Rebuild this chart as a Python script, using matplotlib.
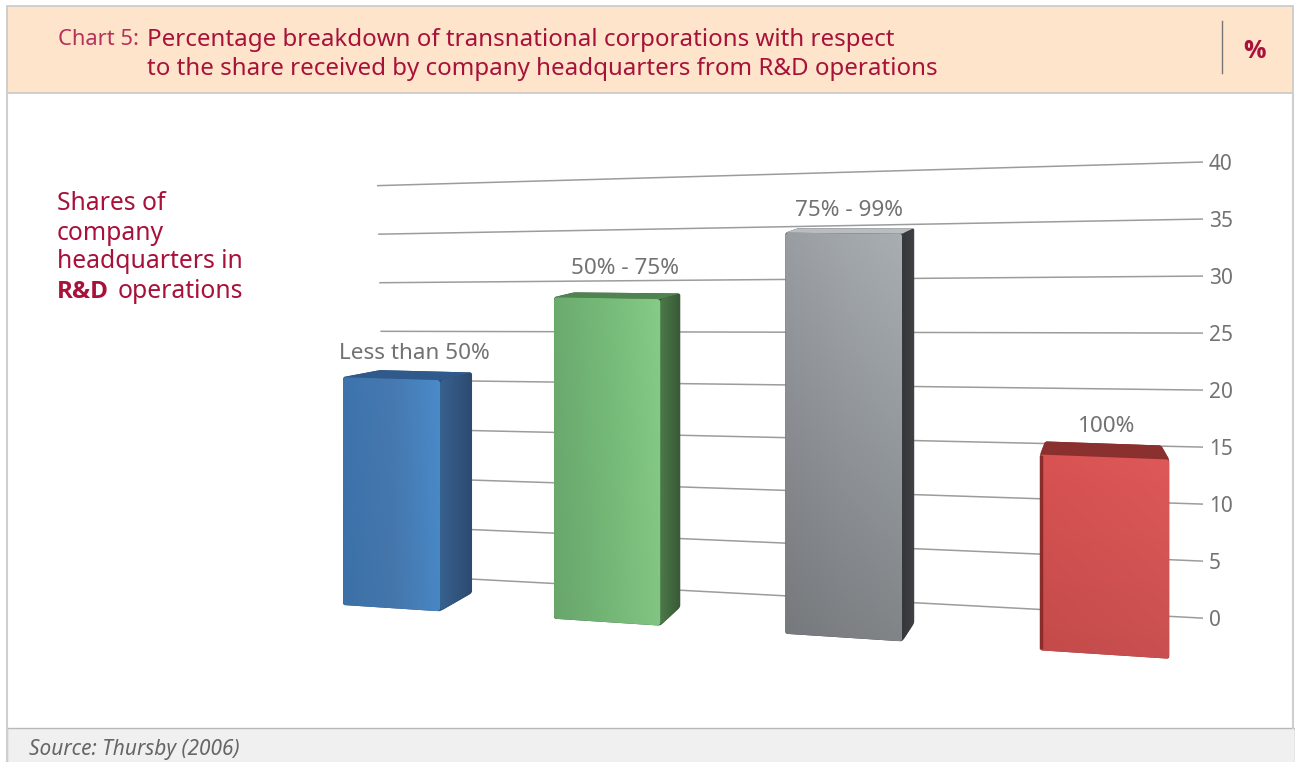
import numpy as np
import matplotlib
matplotlib.use("Agg")
import matplotlib.pyplot as plt
from matplotlib.path import Path
from matplotlib.patches import PathPatch, Rectangle
from matplotlib.colors import to_rgb

# --- data ---
categories = ["Less than 50%", "50% - 75%", "75% - 99%", "100%"]
values = [21.2, 29, 35, 16.5]
ticks = [0, 5, 10, 15, 20, 25, 30, 35, 40]
tick_labels = ["0", "5", "10", "15", "20", "25", "30", "35", "40"]

# --- look of the bars: front (left, mid, right), side (left, right), top ---
front_colors = [["#3d74ad", "#4679b0", "#4a8bca"],
                ["#6cab6f", "#76bb79", "#86cb87"],
                ["#85898d", "#8d9195", "#92979b"],
                ["#d25050", "#d55353", "#d85656"]]
side_colors = [["#38618f", "#2d4a70"],
               ["#4c7a4a", "#395a37"],
               ["#34363a", "#3f4145"],
               ["#8a2c2a", "#8a2c2a"]]
top_colors = ["#2f5a8c", "#4f8450", "#b9bdc0", "#8a302e"]
shade_top = [1.0, 1.0, 1.15, 1.03]     # vertical light on the front face
shade_bottom = [0.97, 0.97, 0.88, 0.93]
side_left = [37, 20, 12, 5]            # how far the back corners shift, px
side_right = [32, 20, 12, -8]
label_dx = [22.5, 18, 5, 2]
label_dy = [19, 26, 20, 17]

RED = "#a8113a"
GREY = "#727272"
FONT = "Noto Sans"
BOLD = "Open Sans"
BAR_WIDTH = 0.471


# --- perspective: category position / value to pixels ---
def cat_x(t):
    return (186.7 * t + 343) / (1 - 0.0439 * t)


def grid_y(x, v):
    return 579 + 0.0534 * (x - 470) - v * (9.9 + 0.00205 * (x - 470))


def front_y(x, v):
    return 605 + 0.065 * (x - 343) - v * (10.75 + 0.0016 * (x - 343))


def back_y(x, v):
    return 593 + 0.068 * (x - 473) - v * (10.4 + 0.002 * (x - 473))


def rounded(pts, r):
    # closed polygon path with the corners cut by small curves
    pts = [np.array(p, dtype=float) for p in pts]
    verts, codes = [], []
    n = len(pts)
    for k in range(n):
        prev, cur, nxt = pts[k - 1], pts[k], pts[(k + 1) % n]
        r1 = min(r, np.linalg.norm(prev - cur) / 2)
        r2 = min(r, np.linalg.norm(nxt - cur) / 2)
        a = cur + (prev - cur) / np.linalg.norm(prev - cur) * r1
        b = cur + (nxt - cur) / np.linalg.norm(nxt - cur) * r2
        verts.append(a)
        codes.append(Path.MOVETO if k == 0 else Path.LINETO)
        verts += [cur, b]
        codes += [Path.CURVE3, Path.CURVE3]
    verts.append(verts[0])
    codes.append(Path.CLOSEPOLY)
    return Path(verts, codes)


def shaded_face(ax, pts, h_colors, top=1.0, bottom=1.0, r=3, z=3):
    # horizontal colour ramp times a vertical light, clipped to the face
    pts = np.array(pts, dtype=float)
    x0, x1 = pts[:, 0].min(), pts[:, 0].max()
    y0, y1 = pts[:, 1].min(), pts[:, 1].max()
    stops = np.array([to_rgb(c) for c in h_colors])
    pos = np.linspace(0, 1, len(stops))
    u = np.linspace(0, 1, 64)
    ramp = np.stack([np.interp(u, pos, stops[:, c]) for c in range(3)], axis=1)
    light = np.linspace(top, bottom, 64)[:, None, None]
    img = np.clip(ramp[None, :, :] * light, 0, 1)
    im = ax.imshow(img, extent=(x0, x1, y1, y0), aspect="auto",
                   interpolation="bilinear", zorder=z)
    patch = PathPatch(rounded(pts, r), fc="none", ec="none", transform=ax.transData)
    ax.add_patch(patch)
    im.set_clip_path(patch)


fig = plt.figure(figsize=(12.95, 7.62), dpi=100)
ax = fig.add_axes([0, 0, 1, 1])

# --- grid lines and value axis ---
for v, lab in zip(ticks, tick_labels):
    xs = np.array([386 - 0.225 * v, 1203])
    ax.plot(xs, grid_y(xs, v), color="#9c9c9c", lw=1.1, zorder=2, solid_capstyle="butt")
    ax.text(1209, grid_y(1203, v), lab, color=GREY, fontsize=15, family=FONT,
            ha="left", va="center_baseline")

# --- bars ---
for i, (name, val) in enumerate(zip(categories, values)):
    xl = cat_x(i)
    xr = cat_x(i + BAR_WIDTH)
    bl = xl + side_left[i]
    br = xr + side_right[i]
    tl, tr = (xl, front_y(xl, val)), (xr, front_y(xr, val))
    fl, fr = (xl, front_y(xl, 0)), (xr, front_y(xr, 0))
    btl, btr = (bl, back_y(bl, val)), (br, back_y(br, val))
    bbr = (br, back_y(br, 0))

    # solid silhouette underneath so no white shows at the joined corners
    under = [tl, btl, btr, bbr, fr, fl] if side_right[i] > 0 else [tl, btl, btr, tr, fr, fl]
    ax.add_patch(PathPatch(rounded(under, 2), fc=side_colors[i][1], ec="none", zorder=2.5))

    shaded_face(ax, [btl, btr, tr, tl], [top_colors[i], top_colors[i]], r=2, z=3)
    if side_right[i] > 0:
        shaded_face(ax, [tr, btr, bbr, fr], side_colors[i], r=4, z=3)
    shaded_face(ax, [tl, tr, fr, fl], front_colors[i],
                shade_top[i], shade_bottom[i], r=3, z=4)
    if side_right[i] < 0:
        # last bar is seen from the other side: only a dark edge shows
        ax.plot([xl + 1, xl + 1], [tl[1] + 2, fl[1] - 3], color=side_colors[i][0],
                lw=2.5, zorder=5)

    mid = (xl + xr) / 2
    ax.text(mid + label_dx[i], min(btl[1], btr[1]) - label_dy[i], name, color=GREY,
            fontsize=16.2, family=FONT, ha="center", va="center_baseline", zorder=6)

# --- frame, header, footer ---
ax.add_patch(Rectangle((7, 6), 1286, 87, fc="#fde4ca", ec="#c8c8c8", lw=1.2, zorder=1))
ax.add_patch(Rectangle((7, 728), 1288, 36, fc="#f0f0f0", ec="#b8b8b8", lw=1, zorder=1))
ax.plot([7, 7], [93, 762], color="#cfcfcf", lw=1.5, zorder=1)
ax.plot([1293, 1293], [93, 728], color="#cfcfcf", lw=1.5, zorder=1)
ax.plot([1222, 1222], [21, 73], color="#777777", lw=1, zorder=2)

ax.text(58, 37, "Chart 5:", color="#b5325a", fontsize=15.8, family=FONT,
        va="center_baseline")
ax.text(147, 37, "Percentage breakdown of transnational corporations with respect",
        color=RED, fontsize=17.35, family=FONT, va="center_baseline")
ax.text(147, 66, "to the share received by company headquarters from R&D operations",
        color=RED, fontsize=17.35, family=FONT, va="center_baseline")
ax.text(1255, 49, "%", color=RED, fontsize=18, family=BOLD, weight="bold",
        ha="center", va="center_baseline")

ax.text(57, 200, "Shares of", color=RED, fontsize=17.8, family=FONT, va="center_baseline")
ax.text(57, 230, "company", color=RED, fontsize=17.8, family=FONT, va="center_baseline")
ax.text(57, 259, "headquarters in", color=RED, fontsize=17.8, family=FONT, va="center_baseline")
rd = ax.text(57, 289, "R&D", color=RED, fontsize=17.5, family=BOLD, weight="bold",
             va="center_baseline")

ax.text(29, 747, "Source: Thursby (2006)", color="#666666", fontsize=15, family=FONT,
        style="italic", va="center_baseline")

ax.set_xlim(0, 1295)
ax.set_ylim(762, 0)
ax.axis("off")

# second word sits right after the bold one
box = rd.get_window_extent(fig.canvas.get_renderer())
ax.text(box.x1 + 9, 289, "operations", color=RED, fontsize=17.8, family=FONT,
        va="center_baseline")

fig.savefig("out.png", dpi=100)
